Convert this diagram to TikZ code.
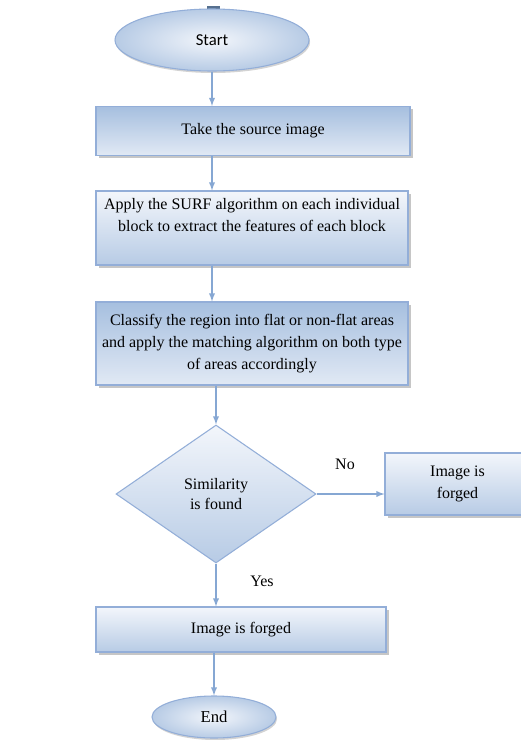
\documentclass[tikz,border=0pt]{standalone}
\usepackage{fontspec}
\setmainfont{Liberation Serif}
\newfontfamily\startfont{Carlito}
\usepackage{tikz}
\usetikzlibrary{shapes.geometric,shadows,arrows,positioning}
\definecolor{edgeblue}{HTML}{93AED8}
\definecolor{arrowblue}{HTML}{86A7D3}
\definecolor{paleblue}{HTML}{F3F6FB}
\definecolor{midblue}{HTML}{B7CBE5}
\definecolor{deepblue}{HTML}{A6BFDF}
\definecolor{markblue}{HTML}{56708F}

\begin{document}
\begin{tikzpicture}[
    x=0.75pt,
    y=-0.75pt,
    terminal/.style={
      ellipse,
      draw=edgeblue,
      line width=0.8pt,
      inner color=paleblue,
      outer color=midblue,
      inner sep=0pt,
      drop shadow={opacity=0.35, shadow xshift=0.8pt, shadow yshift=-1.5pt}
      },
    process/.style={
      rectangle,
      draw=edgeblue,
      line width=0.8pt,
      top color=paleblue,
      bottom color=midblue,
      align=center,
      inner sep=0pt,
      font=\fontsize{12}{16.5}\selectfont,
      drop shadow={opacity=0.45, shadow xshift=2pt, shadow yshift=-2pt}
      },
    darkprocess/.style={
      process,
      top color=deepblue,
      bottom color=paleblue!70!midblue
      },
    decision/.style={
      diamond,
      draw=edgeblue,
      line width=0.8pt,
      top color=paleblue,
      bottom color=midblue,
      align=center,
      inner sep=0pt,
      font=\fontsize{12}{15}\selectfont
      },
    flow/.style={
      draw=arrowblue,
      line width=1.1pt,
      -{latex[scale=1.25]}
      },
    >=latex
    ]
    \useasboundingbox (0,0) rectangle (521,740);
    \clip (0,0) rectangle (521,740);
    \fill[markblue] (207,6) rectangle (220,10);

    \node[terminal, minimum width=145.5pt, minimum height=46.5pt] (start) at (212,40) {\startfont\fontsize{12.5}{15}\selectfont Start};
    \node[darkprocess, minimum width=235.5pt, minimum height=36.75pt] (take) at (253,131) {Take the source image};
    \node[process, minimum width=234pt, minimum height=55.5pt] (surf) at (252,228) {Apply the SURF algorithm on each individual\\block to extract the features of each block\\[-2pt]\strut};
    \node[darkprocess, minimum width=234pt, minimum height=62.25pt] (classify) at (252,343.5) {Classify the region into flat or non-flat areas\\and apply the matching algorithm on both type\\of areas accordingly};
    \node[decision, minimum width=150pt, minimum height=103.5pt] (similar) at (216,494) {Similarity\\is found};
    \node[process, minimum width=108.75pt, minimum height=46.5pt] (forgedright) at (457.5,484) {Image is\\forged};
    \node[process, minimum width=217.5pt, minimum height=33.75pt] (forged) at (241,629.5) {Image is forged};
    \node[terminal, minimum width=93pt, minimum height=31.5pt] (end) at (214,717) {\fontsize{12.5}{14}\selectfont End};

    \node[font=\fontsize{12}{14}\selectfont] (no) at (345,464) {No};
    \node[font=\fontsize{12}{14}\selectfont] (yes) at (262,581) {Yes};

    % main chain
    \draw[flow] (start.south) -- (start.south |- take.north);
    \draw[flow] (start.south |- take.south) -- (start.south |- surf.north);
    \draw[flow] (start.south |- surf.south) -- (start.south |- classify.north);
    \draw[flow] (similar.north |- classify.south) -- (similar.north);
    \draw[flow] (similar.east) -- (similar.east -| forgedright.west);
    \draw[flow] (similar.south) -- (similar.south |- forged.north);
    \draw[flow] (end.north |- forged.south) -- (end.north);
\end{tikzpicture}
\end{document}
